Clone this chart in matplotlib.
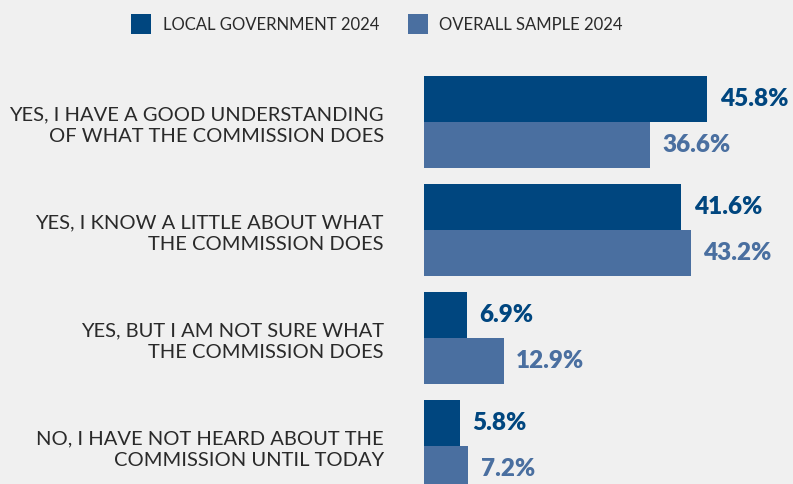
import numpy as np
import matplotlib.pyplot as plt

categories = [
    "YES, I HAVE A GOOD UNDERSTANDING\nOF WHAT THE COMMISSION DOES",
    "YES, I KNOW A LITTLE ABOUT WHAT\nTHE COMMISSION DOES",
    "YES, BUT I AM NOT SURE WHAT\nTHE COMMISSION DOES",
    "NO, I HAVE NOT HEARD ABOUT THE\nCOMMISSION UNTIL TODAY",
]
local_gov = [45.8, 41.6, 6.9, 5.8]
overall = [36.6, 43.2, 12.9, 7.2]
series_names = ["LOCAL GOVERNMENT 2024", "OVERALL SAMPLE 2024"]

dark = "#00467f"
light = "#4a6fa0"
bg = "#f0f0f0"
txt = "#2a2a2a"

plt.rcParams['font.family'] = ['Lato', 'DejaVu Sans']

fig = plt.figure(figsize=(7.93, 4.84), dpi=100, facecolor=bg)
# plot area: bars start at 424 px, run to the right edge
ax = fig.add_axes([424 / 793, 0, 369 / 793, 1])
ax.set_facecolor(bg)

y = np.arange(len(categories))
h = 0.426
b1 = ax.barh(y - h / 2, local_gov, height=h, color=dark, label=series_names[0])
b2 = ax.barh(y + h / 2, overall, height=h, color=light, label=series_names[1])

for bars, vals, col in [(b1, local_gov, dark), (b2, overall, light)]:
    for rect, v in zip(bars, vals):
        ax.annotate(f"{v}%", (v, rect.get_y() + rect.get_height() / 2),
                    xytext=(9, 0), textcoords="offset points",
                    ha="left", va="center", fontsize=17.5, fontweight="heavy",
                    color=col)

ax.set_xlim(0, 369 / 6.18)
ax.set_ylim(3.352, -1.13)

ax.set_yticks(y)
ax.set_yticklabels(categories, fontsize=14.5, color=txt, linespacing=1.3)
ax.tick_params(axis="y", length=0, pad=29)
ax.set_xticks([])
for s in ax.spines.values():
    s.set_visible(False)

fig.legend(handles=[b1, b2], loc="center", bbox_to_anchor=(377 / 793, 1 - 24 / 484),
           ncol=2, frameon=False, fontsize=12, handlelength=1.2, handleheight=1.4,
           handletextpad=0.7, columnspacing=1.7, labelcolor=txt)

fig.savefig("out.png", dpi=100, facecolor=bg)
